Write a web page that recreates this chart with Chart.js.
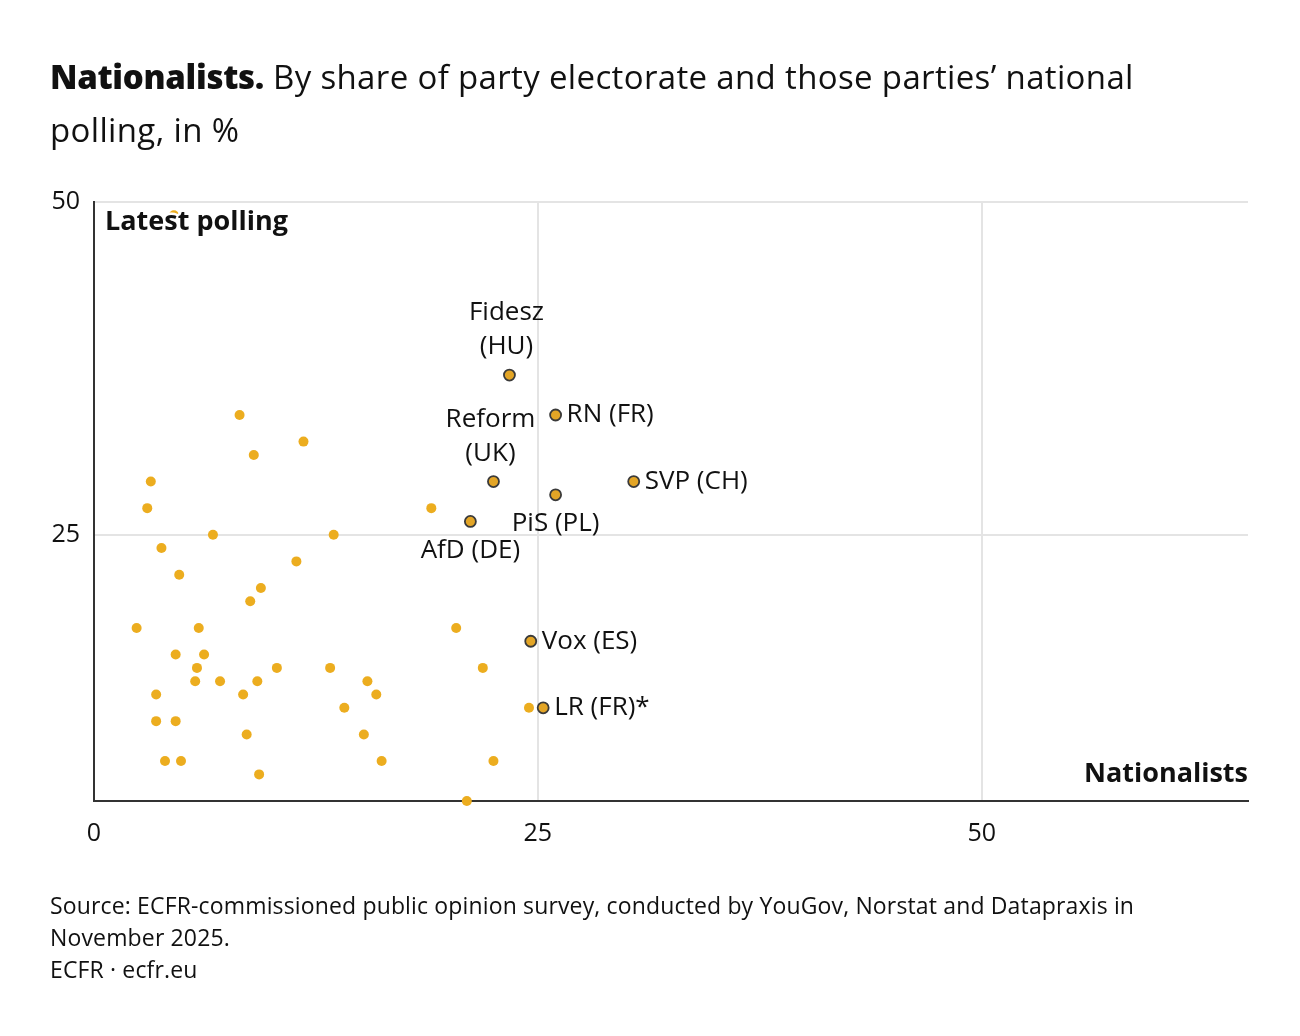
<!DOCTYPE html>
<html>
<head>
<meta charset="utf-8">
<title>Nationalists</title>
<script src="https://cdn.jsdelivr.net/npm/chart.js@4.4.1/dist/chart.umd.min.js"></script>
<style>
  body { margin: 0; background: #fff; font-family: "Open Sans", sans-serif; color: #111; }
  #wrap { position: relative; width: 1300px; height: 1036px; }
  #title { position: absolute; left: 50px; top: 50px; font-size: 33px; line-height: 53px; letter-spacing: 0.35px; }
  #title b { font-weight: 800; letter-spacing: -0.3px; }
  #chart { position: absolute; left: 0; top: 0; }
  #source { position: absolute; left: 50px; top: 889px; font-size: 23px; line-height: 32px; letter-spacing: 0.15px; }
</style>
</head>
<body>
<div id="wrap">
  <canvas id="chart" width="1300" height="1036"></canvas>
  <div id="title"><b>Nationalists.</b> By share of party electorate and those parties’ national<br>polling, in %</div>
  <div id="source">Source: ECFR-commissioned public opinion survey, conducted by YouGov, Norstat and Datapraxis in<br>November 2025.<br>ECFR · ecfr.eu</div>
</div>
<script>
// Tick labels
const xTicks = [0, 25, 50];
const yTicks = [25, 50];

// All other parties (share of nationalists in electorate, latest polling)
const otherX = [8.2, 11.8, 9.0, 3.2, 3.0, 19.0, 6.7, 13.5, 3.8, 11.4, 4.8, 9.4, 8.8, 2.4,
  5.9, 4.6, 6.2, 5.8, 10.3, 13.3, 5.7, 7.1, 9.2, 15.4, 3.5, 8.4, 15.9, 14.1, 3.5, 4.6,
  8.6, 15.2, 4.0, 4.9, 16.2, 9.3, 4.5, 21.0, 20.4, 21.9, 24.5, 22.5];
const otherY = [34, 32, 31, 29, 27, 27, 25, 25, 24, 23, 22, 21, 20, 18,
  18, 16, 16, 15, 15, 15, 14, 14, 14, 14, 13, 13, 13, 12, 11, 11,
  10, 10, 8, 8, 8, 7, 49, 5, 18, 15, 12, 8];

// Named parties
const partyNames = ["Fidesz (HU)", "RN (FR)", "Reform (UK)", "SVP (CH)", "PiS (PL)", "AfD (DE)", "Vox (ES)", "LR (FR)*"];
const partyX = [23.4, 26.0, 22.5, 30.4, 26.0, 21.2, 24.6, 25.3];
const partyY = [37, 34, 29, 29, 28, 26, 17, 12];

const yellow = "#ecad1f";

// where each label sits relative to its dot
const labelPlace = {
  "Fidesz (HU)": "above",
  "Reform (UK)": "above",
  "PiS (PL)": "below",
  "AfD (DE)": "below"
};
const splitAt = {
  "Fidesz (HU)": ["Fidesz", "(HU)"],
  "Reform (UK)": ["Reform", "(UK)"]
};

const labelsPlugin = {
  id: "labels",
  afterDatasetsDraw(chart) {
    const ctx = chart.ctx;
    const xs = chart.scales.x;
    const ys = chart.scales.y;
    const area = chart.chartArea;
    ctx.save();
    ctx.textBaseline = "middle";
    ctx.fillStyle = "#111";
    ctx.font = "26px 'Open Sans', sans-serif";

    partyNames.forEach((name, i) => {
      const px = xs.getPixelForValue(partyX[i]);
      const py = ys.getPixelForValue(partyY[i]);
      const place = labelPlace[name] || "right";
      if (place === "above") {
        ctx.textAlign = "center";
        const lines = splitAt[name];
        ctx.fillText(lines[0], px - 3, py - 62);
        ctx.fillText(lines[1], px - 3, py - 28);
      } else if (place === "below") {
        ctx.textAlign = "center";
        ctx.fillText(name, px, py + 29);
      } else {
        ctx.textAlign = "left";
        ctx.fillText(name, px + 11, py);
      }
    });

    // corner axis titles
    ctx.font = "bold 27px 'Open Sans', sans-serif";
    ctx.lineWidth = 5;
    ctx.strokeStyle = "#fff";
    ctx.lineJoin = "round";
    ctx.textAlign = "left";
    ctx.strokeText("Latest polling", area.left + 11, area.top + 20);
    ctx.fillText("Latest polling", area.left + 11, area.top + 20);
    ctx.textAlign = "right";
    ctx.strokeText("Nationalists", area.right, area.bottom - 27);
    ctx.fillText("Nationalists", area.right, area.bottom - 27);
    ctx.restore();
  }
};

const toPoints = (xArr, yArr) => xArr.map((x, i) => ({ x: x, y: yArr[i] }));

const ctx = document.getElementById("chart").getContext("2d");
const myChart = new Chart(ctx, {
  type: "scatter",
  data: {
    datasets: [
      {
        data: toPoints(otherX, otherY),
        backgroundColor: yellow,
        borderWidth: 0,
        pointRadius: 5,
        clip: false
      },
      {
        data: toPoints(partyX, partyY),
        backgroundColor: "#e3a526",
        borderColor: "#3a3a3a",
        borderWidth: 1.8,
        pointRadius: 5.5,
        clip: false
      }
    ]
  },
  options: {
    responsive: false,
    animation: false,
    layout: { padding: { top: 202, right: 52, bottom: 175, left: 0 } },
    plugins: {
      legend: { display: false },
      tooltip: { enabled: false }
    },
    scales: {
      x: {
        type: "linear",
        min: 0,
        max: 65,
        afterBuildTicks: (s) => { s.ticks = xTicks.map(v => ({ value: v })); },
        afterFit: (s) => { s.height = 60; },
        grid: {
          color: (c) => (c.tick && c.tick.value === 0 ? "rgba(0,0,0,0)" : "#e4e4e4"),
          lineWidth: 2,
          drawTicks: false
        },
        border: { color: "#333", width: 2 },
        ticks: { color: "#111", padding: 18, font: { size: 25, family: "'Open Sans', sans-serif" } }
      },
      y: {
        type: "linear",
        min: 5,
        max: 50,
        afterBuildTicks: (s) => { s.ticks = yTicks.map(v => ({ value: v })); },
        afterFit: (s) => { s.width = 94; },
        grid: { color: "#e4e4e4", lineWidth: 2, drawTicks: false },
        border: { color: "#333", width: 2 },
        ticks: { color: "#111", padding: 14, font: { size: 25, family: "'Open Sans', sans-serif" } }
      }
    }
  },
  plugins: [labelsPlugin]
});
</script>
</body>
</html>
